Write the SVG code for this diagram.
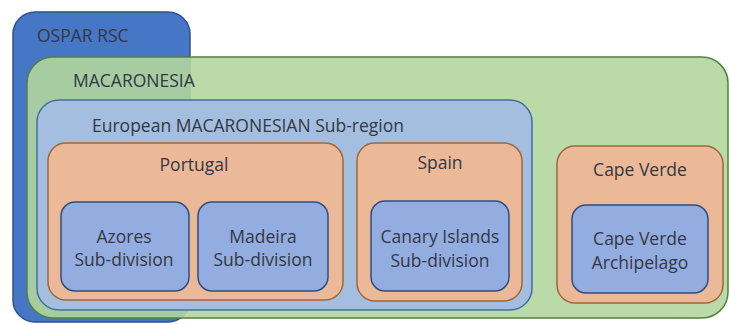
<svg xmlns="http://www.w3.org/2000/svg" width="729" height="324" viewBox="0 0 729 324">
<style>
  .ospar{fill:#4676c6;stroke:#2f528f;stroke-width:1.5}
  .maca{fill:#b3d69d;fill-opacity:0.9;stroke:#557f42;stroke-width:1.5}
  .sub{fill:#a3bede;stroke:#41719c;stroke-width:1.5}
  .cty{fill:#ebb898;stroke:#a0683a;stroke-width:1.5}
  .leaf{fill:#93ade0;stroke:#2f4f80;stroke-width:1.5}
  text{font-family:"Open Sans","Liberation Sans",sans-serif;font-size:17.5px;fill:#333844}
  .c{text-anchor:middle}
</style>
<g id="ospar"><rect class="ospar" x="13" y="12" width="177" height="310" rx="22"/><text x="37" y="42">OSPAR RSC</text></g>
<g id="macaronesia"><rect class="maca" x="27" y="57" width="701" height="261" rx="26"/><text x="73" y="87">MACARONESIA</text></g>
<g id="european"><rect class="sub" x="37" y="100" width="495" height="210" rx="22"/><text x="92" y="132">European MACARONESIAN Sub-region</text></g>
<g id="portugal"><rect class="cty" x="48" y="143" width="295" height="157" rx="18"/><text class="c" x="194" y="171">Portugal</text></g>
<g id="azores"><rect class="leaf" x="61" y="202" width="128" height="89" rx="14"/><text class="c" x="124" y="243">Azores</text><text class="c" x="124" y="266">Sub-division</text></g>
<g id="madeira"><rect class="leaf" x="198" y="202" width="130" height="89" rx="14"/><text class="c" x="263" y="243">Madeira</text><text class="c" x="263" y="266">Sub-division</text></g>
<g id="spain"><rect class="cty" x="357" y="143" width="165" height="158" rx="18"/><text class="c" x="440" y="169">Spain</text></g>
<g id="canary"><rect class="leaf" x="371" y="201" width="138" height="90" rx="14"/><text class="c" x="440" y="243">Canary Islands</text><text class="c" x="440" y="267">Sub-division</text></g>
<g id="capeverde"><rect class="cty" x="557" y="146" width="166" height="157" rx="18"/><text class="c" x="640" y="176">Cape Verde</text></g>
<g id="cvarch"><rect class="leaf" x="572" y="205" width="136" height="88" rx="14"/><text class="c" x="640" y="245">Cape Verde</text><text class="c" x="640" y="269">Archipelago</text></g>
<g id="connectors"></g>
</svg>
